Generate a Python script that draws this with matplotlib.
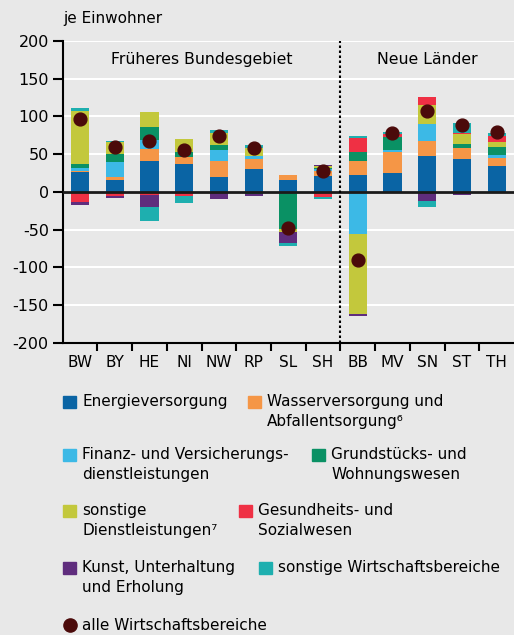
import numpy as np
import matplotlib.pyplot as plt
from matplotlib.patches import Rectangle
from matplotlib.lines import Line2D

plt.rcParams['font.family'] = ['DejaVu Sans']
plt.rcParams['axes.unicode_minus'] = False

laender = ["BW", "BY", "HE", "NI", "NW", "RP", "SL", "SH", "BB", "MV", "SN", "ST", "TH"]

energie      = [26.5, 16, 41, 37, 20, 30.5, 16, 21, 22.6, 25, 48, 44, 34.5]
wasser       = [1.5, 4, 16, 9, 21, 13, 6.5, 6.5, 18.6, 28, 20, 14.6, 10.6]
finanz       = [4, 20, 12, 0, 14.6, 4, 0, 2.7, -55.7, 2.7, 22.6, 0, 4]
grundstueck  = [5.3, 10.6, 17, 6.6, 6.6, -2.7, -49, 2, 12, 17, -1, 5.3, 10.6]
sonst_dienst = [70, 16, 20, 17, 15.5, 10.6, -4, 2.5, -106, 0, 25, 13, 6.6]
gesundheit   = [-13, -5.3, -4, -5.3, 1, 0.7, 0, -6.6, 18.6, 4, 10.6, 1.3, 8]
kunst        = [-4, -2.7, -16, 0, -9.3, -2.7, -14.6, 1.5, -2.7, -1.3, -10.6, -4, -2]
sonst_wirt   = [3.5, 1.3, -18.6, -9.3, 3, 4, -4, -2.7, 2.7, 2.7, -8, 13, 4]
alle         = [96, 60, 68, 56, 73.5, 58, -48, 28, -90, 78, 107, 88, 79]

reihen = [energie, wasser, finanz, grundstueck, sonst_dienst, gesundheit, kunst, sonst_wirt]
farben = ["#0a64a4", "#f59646", "#3cb9e6", "#0a9164", "#c3c83c", "#ef3044", "#5f2d7d", "#1eafaf"]
namen = ["Energieversorgung", "Wasserversorgung und\nAbfallentsorgung\u2076",
         "Finanz- und Versicherungs-\ndienstleistungen", "Grundstücks- und\nWohnungswesen",
         "sonstige\nDienstleistungen\u2077", "Gesundheits- und\nSozialwesen",
         "Kunst, Unterhaltung\nund Erholung", "sonstige Wirtschaftsbereiche"]
dot_farbe = "#4b0a0a"
bg = "#e8e8e8"

fig = plt.figure(figsize=(5.14, 6.35), dpi=100, facecolor=bg)
ax = fig.add_axes([0.122, 0.4603, 0.878, 0.4751], facecolor=bg)

x = np.arange(len(laender))
pos = np.zeros(len(laender))
neg = np.zeros(len(laender))
for werte, c in zip(reihen, farben):
    w = np.array(werte, dtype=float)
    unten = np.where(w >= 0, pos, neg)
    ax.bar(x, w, bottom=unten, width=0.52, color=c, zorder=3)
    pos += np.where(w >= 0, w, 0)
    neg += np.where(w < 0, w, 0)

ax.scatter(x, alle, s=85, color=dot_farbe, zorder=5)

ax.set_xlim(-0.5, len(laender) - 0.5)
ax.set_ylim(-200, 200)
ax.set_yticks(np.arange(-200, 201, 50))
ax.set_xticks(x)
ax.set_xticklabels(laender)
ax.set_xticks(np.arange(0.5, len(laender) - 0.5), minor=True)
ax.tick_params(axis='x', which='major', length=0, labelsize=11, pad=9)
ax.tick_params(axis='x', which='minor', length=6, width=1.5)
ax.tick_params(axis='y', length=7, width=1.5, labelsize=11.5, pad=3)

ax.grid(axis='y', color='white', linewidth=1.5, zorder=0)
ax.axhline(0, color='#1a1a1a', linewidth=2, zorder=4)
ax.axvline(7.5, color='black', linestyle=(0, (1.2, 1.2)), linewidth=1.5, zorder=4)
for s in ['top', 'right']:
    ax.spines[s].set_visible(False)
for s in ['left', 'bottom']:
    ax.spines[s].set_linewidth(1.5)

ax.text(3.5, 175, "Früheres Bundesgebiet", ha='center', va='center', fontsize=11.3)
ax.text(10, 175, "Neue Länder", ha='center', va='center', fontsize=11.3)
fig.text(63 / 514, 1 - 18 / 635, "je Einwohner", ha='left', va='center', fontsize=11)

# Legende von Hand gesetzt
W, H = 514, 635
eintraege = [
    (63, 402, 0), (248, 402, 1),
    (63, 455, 2), (312, 455, 3),
    (63, 511, 4), (239, 511, 5),
    (63, 568, 6), (259, 568, 7),
]
for px, py, i in eintraege:
    fig.patches.append(Rectangle(((px) / W, 1 - (py + 6) / H), 12.5 / W, 12.5 / H,
                                 transform=fig.transFigure, color=farben[i]))
    fig.text((px + 19) / W, 1 - (py - 8) / H, namen[i], ha='left', va='top',
             fontsize=11, linespacing=1.45)

fig.add_artist(Line2D([69.5 / W], [1 - 625 / H], marker='o', markersize=9.5,
                      color=dot_farbe, linestyle='none', transform=fig.transFigure))
fig.text(82 / W, 1 - 625 / H, "alle Wirtschaftsbereiche", ha='left', va='center', fontsize=11)

fig.savefig("out.png", dpi=100, facecolor=bg)
